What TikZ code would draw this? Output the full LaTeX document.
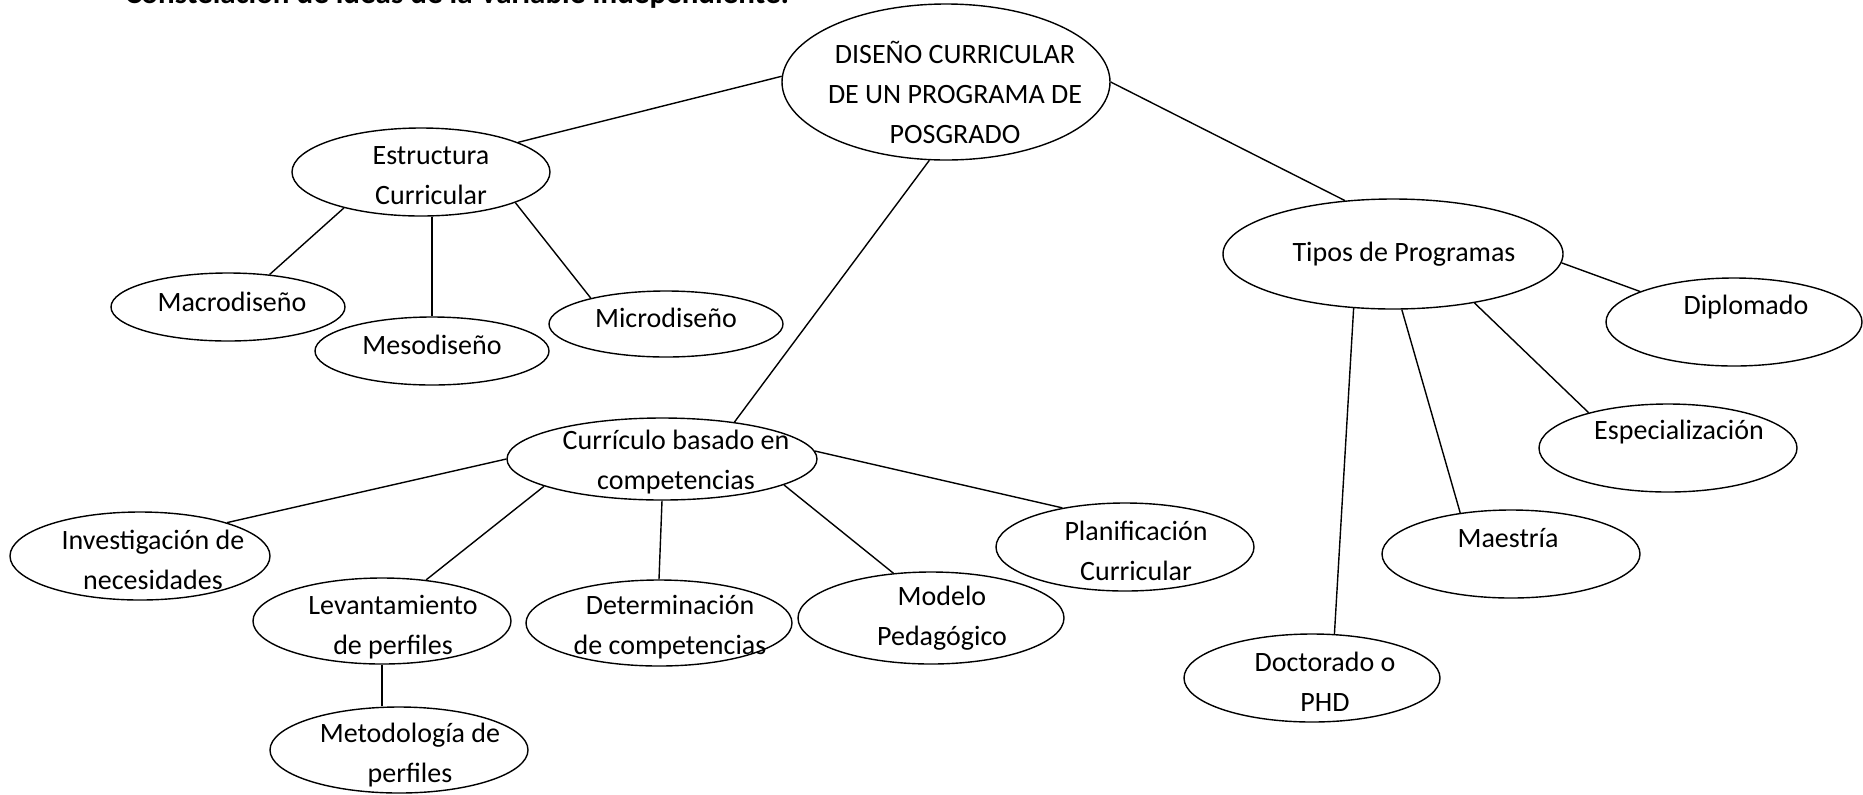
\documentclass[tikz,border=0pt]{standalone}
\usepackage{fontspec}
\setmainfont{Carlito}
\usetikzlibrary{shapes.geometric}

\begin{document}
\begin{tikzpicture}[x=0.5pt,y=-0.5pt,
    idea/.style 2 args={ellipse,draw,line width=0.7pt,minimum width=#1pt,minimum height=#2pt,inner sep=0pt},
    txt/.style={align=center,font=\fontsize{14}{20}\selectfont},
    con/.style={line width=0.7pt}
  ]
    \useasboundingbox (0,0) rectangle (1863,794);
    \node[anchor=base west,font=\fontsize{15.5}{18}\selectfont\bfseries] (tit) at (118,3) {Constelación de ideas de la Variable Independiente:};
    \node[idea={164}{78},label={[txt,xshift=4.5pt,yshift=-5pt]center:{DISEÑO CURRICULAR\\DE UN PROGRAMA DE\\POSGRADO}}] (dis) at (946,82) {};
    \node[idea={129}{44},label={[txt,xshift=5pt,yshift=-2pt]center:{Estructura\\Curricular}}] (est) at (421,172) {};
    \node[idea={117}{34},label={[txt,xshift=2pt,yshift=2.5pt]center:Macrodiseño}] (mac) at (228,307) {};
    \node[idea={117}{34},label={[txt,yshift=3pt]center:Mesodiseño}] (mes) at (432,351) {};
    \node[idea={117}{33},label={[txt,yshift=3pt]center:Microdiseño}] (mic) at (666,324) {};
    \node[idea={155}{41},label={[txt,xshift=7pt,yshift=-1.5pt]center:{Currículo basado en\\competencias}}] (cur) at (662,459) {};
    \node[idea={130}{44},label={[txt,xshift=6.5pt,yshift=-2pt]center:{Investigación de\\necesidades}}] (inv) at (140,556) {};
    \node[idea={129}{43},label={[txt,xshift=5.5pt,yshift=-3pt]center:{Levantamiento\\de perfiles}}] (lev) at (382,621) {};
    \node[idea={129}{43},label={[txt,xshift=5.5pt,yshift=-2.5pt]center:{Metodología de\\perfiles}}] (met) at (399,750) {};
    \node[idea={133}{43},label={[txt,xshift=5.5pt,yshift=-2pt]center:{Determinación\\de competencias}}] (det) at (659,623) {};
    \node[idea={133}{46},label={[txt,xshift=5.5pt]center:{Modelo\\Pedagógico}}] (mod) at (931,618) {};
    \node[idea={129}{44},label={[txt,xshift=5.5pt,yshift=-2pt]center:{Planificación\\Curricular}}] (pla) at (1125,547) {};
    \node[idea={170}{55},label={[txt,xshift=5.5pt]center:Tipos de Programas}] (tip) at (1393,254) {};
    \node[idea={128}{44},label={[txt,xshift=6pt,yshift=7.5pt]center:Diplomado}] (dip) at (1734,322) {};
    \node[idea={129}{44},label={[txt,xshift=5.5pt,yshift=8pt]center:Especialización}] (esp) at (1668,448) {};
    \node[idea={129}{44},label={[txt,xshift=-1.5pt,yshift=8pt]center:Maestría}] (mae) at (1511,554) {};
    \node[idea={128}{44},label={[txt,xshift=6.5pt,yshift=-2pt]center:{Doctorado o\\PHD}}] (doc) at (1312,678) {};
    \draw[con] (dis.178) -- (est.17);
    \draw[con] (dis.0) -- (tip.132);
    \draw[con] (dis.258) -- (cur.27);
    \draw[con] (est.205) -- (mac.38);
    \draw[con] (est.south -| mes.north) -- (mes.north);
    \draw[con] (est.342) -- (mic.161);
    \draw[con] (cur.180) -- (inv.21);
    \draw[con] (cur.193) -- (lev.43);
    \draw[con] (cur.south) -- (det.north);
    \draw[con] (cur.348) -- (mod.130);
    \draw[con] (cur.3) -- (pla.148);
    \draw[con] (lev.south) -- (met.north -| lev.south);
    \draw[con] (tip.357) -- (dip.162);
    \draw[con] (tip.329) -- (esp.156);
    \draw[con] (tip.279) -- (mae.141);
    \draw[con] (tip.234) -- (doc.63);
  \end{tikzpicture}
\end{document}
